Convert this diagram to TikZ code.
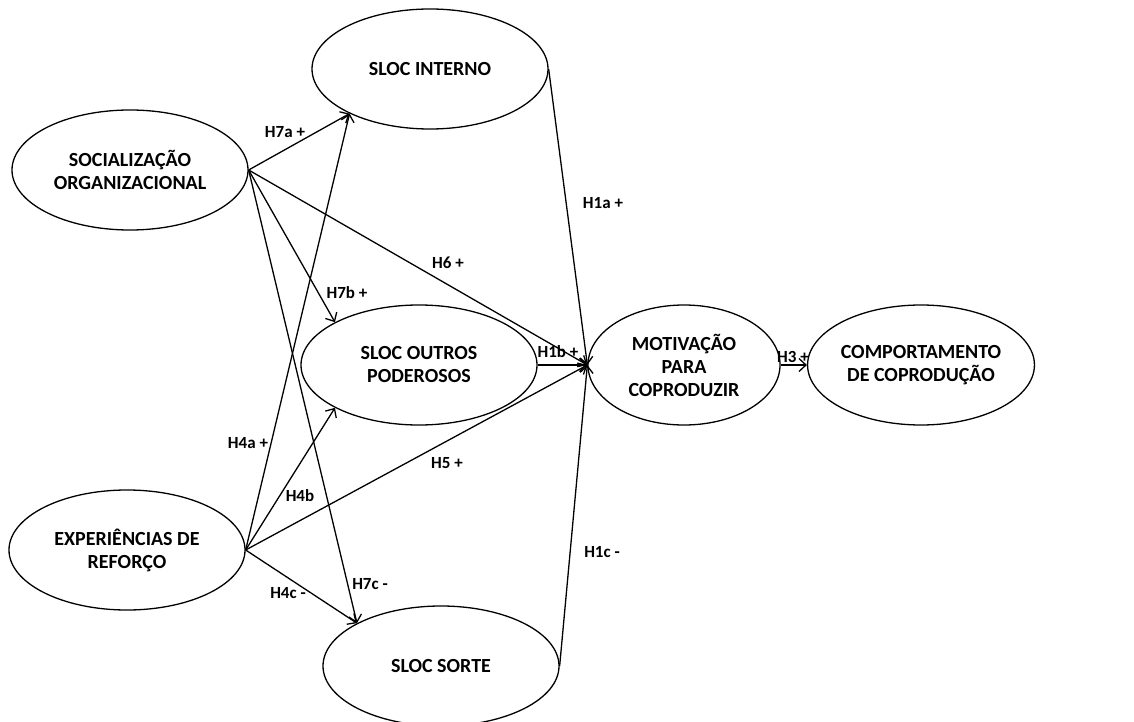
\documentclass[tikz,border=0pt]{standalone}
\usepackage{fontspec}
\setmainfont{Carlito}
\usetikzlibrary{shapes.geometric,arrows.meta}

\tikzset{
  construct/.style={draw, ellipse, line width=1.3pt, inner sep=0pt,
    minimum width=236pt, minimum height=120pt, align=center,
    font=\fontsize{20}{23}\selectfont\bfseries},
  hyp/.style={line width=1.3pt, -{Straight Barb[length=7pt,width=13pt,line width=1.3pt]}},
  lbl/.style={font=\fontsize{17}{19}\selectfont\bfseries, inner sep=1pt}
}

\begin{document}
\begin{tikzpicture}[x=1pt, y=-1pt]
\useasboundingbox (0,0) rectangle (1134,722);
% constructs
\node[construct] (soc) at (130,170) {SOCIALIZAÇÃO\\ORGANIZACIONAL};
\node[construct] (exp) at (127,550) {EXPERIÊNCIAS DE\\REFORÇO};
\node[construct] (interno) at (430,69) {SLOC INTERNO};
\node[construct] (outros) at (419,365) {SLOC OUTROS\\PODEROSOS};
\node[construct] (sorte) at (441,666) {SLOC SORTE};
\node[construct, minimum width=192pt] (motiv) at (684,365) {MOTIVAÇÃO\\PARA\\COPRODUZIR};
\node[construct, minimum width=202pt] (comport) at (921,365) {COMPORTAMENTO\\DE COPRODUÇÃO};

% hypotheses
\draw[hyp] (soc.east) -- (interno.209);
\draw[hyp] (soc.east) -- (outros.153);
\draw[hyp] (soc.east) -- (sorte.153);
\draw[hyp] (soc.east) -- (motiv.west);
\draw[hyp] (exp.east) -- (interno.209);
\draw[hyp] (exp.east) -- (outros.207);
\draw[hyp] (exp.east) -- (motiv.west);
\draw[hyp] (exp.east) -- (sorte.153);
\draw[hyp] (interno.east) -- (motiv.west);
\draw[hyp] (outros.east) -- (motiv.west);
\draw[hyp] (sorte.east) -- (motiv.west);
\draw[hyp] (motiv.east) -- (comport.west);

% labels
\node[lbl] (l7a) at (285,132) {H7a +};
\node[lbl] (l7b) at (347,293) {H7b +};
\node[lbl] (l7c) at (370,584) {H7c -};
\node[lbl] (l6) at (448,263) {H6 +};
\node[lbl] (l4a) at (248,443) {H4a +};
\node[lbl] (l4b) at (300,496) {H4b};
\node[lbl] (l4c) at (288,593) {H4c -};
\node[lbl] (l5) at (447,463) {H5 +};
\node[lbl] (l1a) at (603,203) {H1a +};
\node[lbl] (l1b) at (558,352) {H1b +};
\node[lbl] (l1c) at (602,552) {H1c -};
\node[lbl] (l3) at (793,357) {H3 +};
\end{tikzpicture}
\end{document}
